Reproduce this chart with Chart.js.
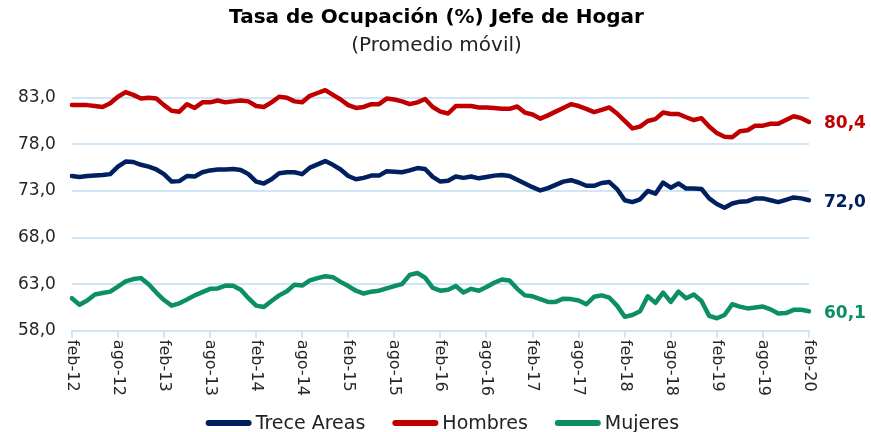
<!DOCTYPE html>
<html>
<head>
<meta charset="utf-8">
<script src="https://cdn.jsdelivr.net/npm/chart.js@4.4.1/dist/chart.umd.min.js"></script>
<style>
  html, body { margin: 0; padding: 0; background: #fff; }
  #wrap { width: 871px; height: 432px; }
</style>
</head>
<body>
<div id="wrap"><canvas id="chart" width="871" height="432"></canvas></div>
<script>
// Monthly categories, feb-12 .. feb-20
const monthAbbr = ['ene', 'feb', 'mar', 'abr', 'may', 'jun', 'jul', 'ago', 'sep', 'oct', 'nov', 'dic'];
const categories = [];
for (let y = 2012, m = 1; y < 2020 || (y === 2020 && m <= 1);) {
  categories.push(monthAbbr[m] + '-' + String(y).slice(2));
  m++;
  if (m === 12) { m = 0; y++; }
}

const yTicks = [58, 63, 68, 73, 78, 83];

const treceAreas = [
  74.6, 74.5, 74.6, 74.65, 74.7, 74.8, 75.6, 76.15, 76.1, 75.8, 75.6, 75.3,
  74.8, 74.0, 74.05, 74.6, 74.55, 75.0, 75.2, 75.3, 75.3, 75.35, 75.25, 74.8,
  74.0, 73.8, 74.25, 74.9, 75.0, 75.0, 74.8, 75.5, 75.85, 76.2, 75.8, 75.3,
  74.6, 74.25, 74.4, 74.64, 74.64, 75.1, 75.05, 75.0, 75.2, 75.45, 75.35, 74.5,
  74.0, 74.1, 74.55, 74.4, 74.55, 74.35, 74.5, 74.64, 74.7, 74.6, 74.2, 73.8,
  73.4, 73.05, 73.3, 73.65, 74.0, 74.15, 73.9, 73.55, 73.55, 73.85, 73.95, 73.2,
  72.0, 71.8, 72.1, 73.0, 72.7, 73.9, 73.35, 73.8, 73.25, 73.25, 73.2, 72.2,
  71.6, 71.2, 71.65, 71.85, 71.9, 72.2, 72.2, 72.0, 71.8, 72.05, 72.3, 72.2,
  72.0
];

const hombres = [
  82.2, 82.2, 82.2, 82.1, 82.0, 82.4, 83.1, 83.6, 83.3, 82.9, 83.0, 82.9,
  82.2, 81.6, 81.5, 82.3, 81.9, 82.5, 82.5, 82.7, 82.5, 82.6, 82.7, 82.6,
  82.1, 82.0, 82.5, 83.1, 83.0, 82.6, 82.5, 83.2, 83.5, 83.8, 83.3, 82.8,
  82.2, 81.9, 82.0, 82.3, 82.3, 82.9, 82.8, 82.6, 82.3, 82.5, 82.85, 82.0,
  81.5, 81.3, 82.1, 82.1, 82.1, 81.95, 81.95, 81.9, 81.8, 81.8, 82.05, 81.4,
  81.2, 80.75, 81.1, 81.5, 81.9, 82.3, 82.1, 81.8, 81.45, 81.7, 81.95, 81.3,
  80.5, 79.7, 79.9, 80.5, 80.7, 81.4, 81.25, 81.25, 80.9, 80.6, 80.8, 79.9,
  79.2, 78.8, 78.75, 79.4, 79.5, 80.0, 80.0, 80.2, 80.2, 80.6, 81.0, 80.8,
  80.4
];

const mujeres = [
  61.5, 60.8, 61.25, 61.9, 62.05, 62.2, 62.75, 63.3, 63.55, 63.65, 63.0, 62.1,
  61.3, 60.7, 60.95, 61.35, 61.8, 62.15, 62.5, 62.55, 62.85, 62.82, 62.4, 61.5,
  60.7, 60.55, 61.2, 61.8, 62.25, 62.95, 62.85, 63.4, 63.65, 63.85, 63.75, 63.25,
  62.8, 62.3, 62.0, 62.2, 62.3, 62.55, 62.8, 63.0, 64.0, 64.2, 63.7, 62.6,
  62.3, 62.4, 62.8, 62.1, 62.5, 62.3, 62.7, 63.15, 63.5, 63.4, 62.5, 61.8,
  61.7, 61.4, 61.1, 61.1, 61.45, 61.4, 61.25, 60.85, 61.65, 61.8, 61.55, 60.7,
  59.5, 59.7, 60.1, 61.7, 61.0, 62.1, 61.1, 62.2, 61.5, 61.9, 61.2, 59.6,
  59.35, 59.7, 60.85, 60.6, 60.4, 60.5, 60.6, 60.3, 59.85, 59.9, 60.25, 60.25,
  60.1
];

const seriesNames = ['Trece Areas', 'Hombres', 'Mujeres'];
const seriesColors = ['#002060', '#c00000', '#0b8f63'];
const gridBlue = '#cfe6f8';
const fontFamily = "'DejaVu Sans', sans-serif";

const fmt = v => v.toFixed(1).replace('.', ',');

// x labels read top-to-bottom, placed at the category scale positions
const xLabelPlugin = {
  id: 'xLabels',
  afterDraw(chart) {
    const xs = chart.scales.x;
    const ctx = chart.ctx;
    ctx.save();
    ctx.font = '16px ' + fontFamily;
    ctx.fillStyle = '#262626';
    ctx.textAlign = 'left';
    ctx.textBaseline = 'middle';
    categories.forEach((lab, i) => {
      if (i % 6 !== 0) return;
      const x = xs.getPixelForValue(i);
      ctx.save();
      ctx.translate(x, xs.top + 9);
      ctx.rotate(Math.PI / 2);
      ctx.fillText(lab, 0, 0);
      ctx.restore();
    });
    ctx.restore();
  }
};

// last value of every series written at the right end of its line
const endLabelPlugin = {
  id: 'endLabels',
  afterDatasetsDraw(chart) {
    const ctx = chart.ctx;
    ctx.save();
    ctx.font = 'bold 17px ' + fontFamily;
    ctx.textAlign = 'left';
    ctx.textBaseline = 'middle';
    chart.data.datasets.forEach((ds, di) => {
      const meta = chart.getDatasetMeta(di);
      const last = meta.data[meta.data.length - 1];
      const v = ds.data[ds.data.length - 1];
      ctx.fillStyle = ds.borderColor;
      ctx.fillText(fmt(v), chart.chartArea.right + 15, last.y + 2);
    });
    ctx.restore();
  }
};

// legend row along the bottom edge: line swatch + series name
const legendRowPlugin = {
  id: 'legendRow',
  afterDraw(chart) {
    const ctx = chart.ctx;
    const boxW = 46, boxH = 6, gap = 4, itemGap = 27;
    const y = 423;
    ctx.save();
    ctx.font = '19px ' + fontFamily;
    ctx.textBaseline = 'middle';
    ctx.textAlign = 'left';
    const items = chart.data.datasets.map(ds => ({
      text: ds.label, color: ds.borderColor, w: ctx.measureText(ds.label).width
    }));
    const total = items.reduce((s, it) => s + boxW + gap + it.w, 0) + itemGap * (items.length - 1);
    let x = (chart.chartArea.left + chart.chartArea.right) / 2 + 2 - total / 2;
    items.forEach(it => {
      ctx.strokeStyle = it.color;
      ctx.lineWidth = boxH;
      ctx.lineCap = 'round';
      ctx.beginPath();
      ctx.moveTo(x + boxH / 2, y);
      ctx.lineTo(x + boxW - boxH / 2, y);
      ctx.stroke();
      ctx.fillStyle = '#222';
      ctx.fillText(it.text, x + boxW + gap, y + 1);
      x += boxW + gap + it.w + itemGap;
    });
    ctx.restore();
  }
};

const datasets = [treceAreas, hombres, mujeres].map((d, i) => ({
  label: seriesNames[i],
  data: d,
  borderColor: seriesColors[i],
  backgroundColor: seriesColors[i],
  borderWidth: 4.5,
  pointRadius: 0,
  tension: 0,
  borderJoinStyle: 'round',
  borderCapStyle: 'round',
  fill: false
}));

new Chart(document.getElementById('chart'), {
  type: 'line',
  data: { labels: categories, datasets },
  plugins: [xLabelPlugin, endLabelPlugin, legendRowPlugin],
  options: {
    responsive: false,
    animation: false,
    devicePixelRatio: 1,
    layout: { padding: { left: 2, right: 0, top: 0, bottom: 34 } },
    plugins: {
      title: {
        display: true,
        text: 'Tasa de Ocupación (%) Jefe de Hogar',
        color: '#000',
        font: { family: fontFamily, size: 20, weight: 'bold' },
        padding: { top: 6, bottom: 4 }
      },
      subtitle: {
        display: true,
        text: '(Promedio móvil)',
        color: '#222',
        font: { family: fontFamily, size: 20, weight: 'normal' },
        padding: { top: 0, bottom: 21 }
      },
      legend: { display: false },
      tooltip: { enabled: false }
    },
    scales: {
      x: {
        type: 'category',
        grid: {
          drawOnChartArea: false,
          drawTicks: true,
          tickLength: 7,
          lineWidth: 2,
          color: ctx => (ctx.index % 6 === 0 ? gridBlue : 'rgba(0,0,0,0)')
        },
        border: { display: true, color: gridBlue, width: 2 },
        ticks: {
          autoSkip: false,
          minRotation: 90,
          maxRotation: 90,
          padding: 2,
          color: 'rgba(0,0,0,0)',
          font: { family: fontFamily, size: 16 },
          callback: (v, i) => (i % 6 === 0 ? categories[i] : '')
        }
      },
      y: {
        min: 58,
        max: 85,
        afterBuildTicks: s => { s.ticks = yTicks.map(v => ({ value: v })); },
        grid: { color: gridBlue, lineWidth: 2, drawTicks: false },
        border: { display: false },
        ticks: {
          color: '#262626',
          padding: 16,
          font: { family: fontFamily, size: 17 },
          callback: v => fmt(v)
        }
      },
      // empty right-hand axis: room for the end-of-line value labels
      yEnd: {
        position: 'right',
        min: 58,
        max: 85,
        grid: { display: false },
        border: { display: false },
        ticks: { display: false },
        afterFit: s => { s.width = 62; }
      }
    }
  }
});
</script>
</body>
</html>
